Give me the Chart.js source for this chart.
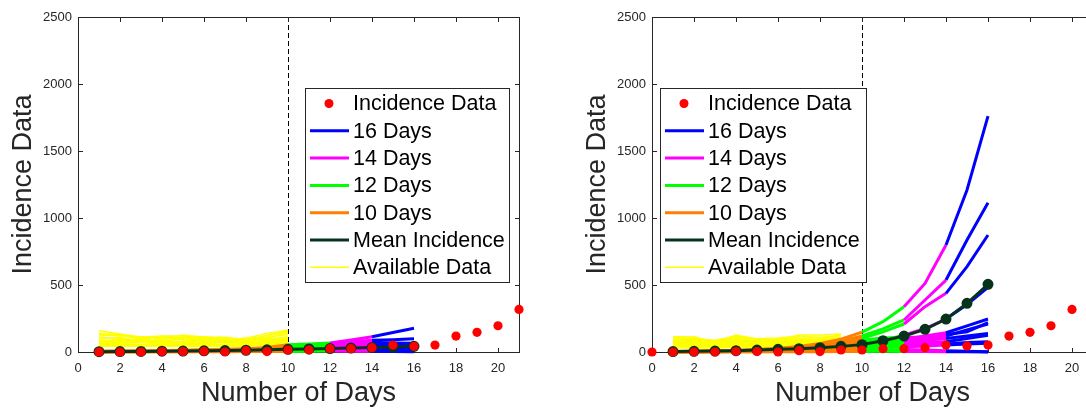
<!DOCTYPE html>
<html>
<head>
<meta charset="utf-8">
<script src="https://cdn.jsdelivr.net/npm/chart.js@4.4.1/dist/chart.umd.min.js"></script>
<style>
  html, body { margin: 0; padding: 0; background: #fff; overflow: hidden; width: 1086px; height: 409px; }
  #wrap { position: relative; width: 1086px; height: 409px; overflow: hidden; }
  canvas { position: absolute; top: 0; }
  #leftPanel { left: 0; }
  #rightPanel { left: 574px; }
</style>
</head>
<body>
<div id="wrap">
  <canvas id="leftPanel" width="545" height="409"></canvas>
  <canvas id="rightPanel" width="545" height="409"></canvas>
</div>
<script>
// ---- axis ticks ----
const xTicks = [0, 2, 4, 6, 8, 10, 12, 14, 16, 18, 20];
const yTicks = [0, 500, 1000, 1500, 2000, 2500];

// ---- legend ----
const legendLabels = ['Incidence Data', '16 Days', '14 Days', '12 Days', '10 Days', 'Mean Incidence', 'Available Data'];
const legendKinds  = ['dot', 'line', 'line', 'line', 'line', 'line', 'thin'];

// ---- observed incidence ----
const leftIncidenceDays = [1, 2, 3, 4, 5, 6, 7, 8, 9, 10, 11, 12, 13, 14, 15, 16, 17, 18, 19, 20, 21];
const leftIncidence     = [0, 0, 0, 3, 3, 5, 0, 10, 3, 15, 15, 25, 25, 32, 52, 42, 52, 119, 147, 196, 318];
const rightIncidenceDays = [0, 1, 2, 3, 4, 5, 6, 7, 8, 9, 10, 11, 12, 13, 14, 15, 16, 17, 18, 19, 20];
const rightIncidence     = [0, 0, 0, 0, 3, 3, 0, 10, 3, 15, 15, 25, 25, 32, 52, 45, 52, 119, 147, 196, 318];

// ---- forecast runs, days 1..16 ----
const forecastDays = [1, 2, 3, 4, 5, 6, 7, 8, 9, 10, 11, 12, 13, 14, 15, 16];
// calibration windows (first day, last day) for 10, 12, 14 and 16 days
const window10 = [1, 10];
const window12 = [10, 12];
const window14 = [12, 14];
const window16 = [14, 16];

const leftMean = [2, 3, 4, 6, 7, 9, 11, 13, 16, 20, 23, 26, 29, 33, 37, 42];
const leftRuns = [
  [6, 7, 9, 11, 13, 16, 20, 25, 33, 55, 60, 68, 90, 114, 145, 177],
  [5, 6, 8, 10, 12, 14, 17, 21, 27, 44, 52, 64, 75, 88, 92, 98],
  [4, 5, 7, 8, 10, 12, 14, 18, 22, 36, 44, 54, 62, 72, 68, 65],
  [3, 4, 6, 7, 8, 10, 12, 15, 18, 28, 36, 46, 50, 55, 52, 50],
  [3, 3, 4, 5, 6, 8, 10, 12, 15, 22, 28, 38, 42, 45, 44, 42],
  [2, 3, 3, 4, 5, 6, 8, 10, 12, 16, 22, 30, 32, 35, 33, 30],
  [1, 2, 2, 3, 4, 5, 6, 7, 9, 12, 16, 22, 24, 25, 22, 20],
  [1, 1, 1, 2, 2, 3, 4, 5, 6, 8, 10, 15, 15, 15, 12, 10],
  [0, 0, 1, 1, 1, 2, 2, 3, 3, 4, 5, 8, 6, 5, 3, 2]
];

const rightMean = [3, 5, 7, 10, 14, 20, 25, 32, 42, 55, 84, 119, 169, 246, 363, 505];
const rightRuns = [
  [4, 6, 9, 13, 19, 28, 42, 63, 95, 148, 226, 338, 512, 798, 1209, 1760],
  [3, 5, 7, 11, 16, 24, 35, 53, 80, 120, 172, 239, 388, 537, 836, 1114],
  [3, 4, 6, 10, 14, 21, 31, 46, 68, 102, 150, 209, 338, 438, 637, 873],
  [2, 3, 5, 7, 10, 14, 20, 29, 41, 58, 88, 125, 175, 246, 355, 483],
  [2, 3, 5, 8, 11, 16, 24, 35, 52, 78, 92, 95, 120, 144, 195, 246],
  [2, 3, 4, 7, 10, 14, 21, 30, 44, 66, 80, 85, 102, 119, 165, 209],
  [2, 3, 4, 6, 9, 12, 17, 25, 36, 88, 105, 110, 112, 130, 150, 220],
  [1, 2, 4, 6, 9, 13, 18, 26, 38, 55, 65, 70, 85, 100, 120, 139],
  [1, 2, 3, 5, 7, 10, 15, 22, 32, 46, 55, 60, 70, 77, 100, 125],
  [1, 2, 3, 4, 6, 9, 13, 18, 26, 38, 45, 48, 55, 60, 70, 77],
  [1, 2, 2, 3, 5, 7, 10, 14, 20, 28, 35, 38, 45, 52, 60, 65],
  [1, 1, 1, 2, 2, 3, 4, 6, 8, 12, 15, 18, 15, 10, 5, 2],
  [0, 0, 0, 1, 1, 1, 2, 2, 3, 4, 5, 4, 3, 2, 1, 0]
];

// ---- available data samples ----
const leftAvailableDays = [1, 2, 3, 4, 5, 6, 7, 8, 9, 10];
const leftAvailable = [
  [159, 134, 110, 120, 119, 104, 90, 104, 139, 164],
  [140, 125, 100, 105, 125, 112, 110, 92, 125, 155],
  [130, 120, 114, 95, 110, 100, 70, 95, 120, 150],
  [120, 130, 95, 110, 90, 115, 95, 85, 105, 140],
  [110, 100, 90, 114, 95, 90, 100, 80, 110, 130],
  [95, 110, 80, 85, 100, 80, 75, 90, 95, 115],
  [85, 80, 95, 75, 80, 95, 65, 70, 100, 95],
  [78, 95, 85, 90, 75, 85, 88, 78, 88, 105],
  [70, 90, 70, 80, 70, 70, 80, 60, 80, 100],
  [65, 72, 80, 70, 72, 66, 70, 72, 75, 90],
  [60, 65, 75, 60, 65, 60, 55, 65, 70, 85],
  [55, 60, 58, 62, 58, 62, 52, 58, 64, 76],
  [50, 55, 50, 55, 50, 55, 45, 50, 60, 70],
  [45, 50, 46, 50, 46, 48, 44, 48, 55, 62],
  [40, 45, 42, 45, 40, 42, 40, 45, 50, 55]
];
const rightAvailableDays = [1, 2, 3, 4, 5, 6, 7, 8, 9];
const rightAvailable = [
  [114, 114, 70, 127, 95, 90, 127, 127, 134],
  [105, 98, 88, 118, 100, 105, 120, 100, 128],
  [100, 105, 80, 110, 90, 77, 115, 110, 120],
  [90, 95, 75, 100, 85, 95, 100, 95, 110],
  [85, 88, 72, 95, 88, 80, 95, 90, 105],
  [80, 85, 65, 90, 80, 85, 90, 85, 100],
  [75, 80, 68, 85, 75, 78, 85, 80, 95],
  [70, 75, 60, 80, 70, 75, 80, 75, 90],
  [65, 70, 58, 75, 66, 70, 75, 70, 85],
  [60, 65, 55, 70, 62, 65, 70, 65, 80],
  [55, 60, 52, 65, 58, 60, 65, 60, 72],
  [50, 55, 48, 60, 55, 55, 60, 55, 65],
  [45, 48, 44, 52, 48, 50, 52, 50, 58],
  [40, 42, 40, 45, 42, 45, 45, 45, 50],
  [30, 32, 30, 35, 32, 33, 35, 35, 40]
];

const splitDay = 10;

// ---- styling ----
const C = {
  red: '#ff0000', blue: '#0000ff', magenta: '#ff00ff', green: '#00ff00',
  orange: '#ff8000', mean: '#07331d', yellow: '#ffff00', axis: '#262626'
};
const legendColors = [C.red, C.blue, C.magenta, C.green, C.orange, C.mean, C.yellow];
const FONT = "'Liberation Sans', Arial, Helvetica, sans-serif";
Chart.defaults.font.family = FONT;

function pts(days, values) {
  return days.map((d, i) => ({ x: d, y: values[i] }));
}
function segment(values, span) {
  return forecastDays
    .filter(d => d >= span[0] && d <= span[1])
    .map(d => ({ x: d, y: values[d - 1] }));
}
function lineSet(data, color, width) {
  return { data, showLine: true, borderColor: color, backgroundColor: color,
           borderWidth: width, pointRadius: 0, clip: false, tension: 0 };
}

function buildDatasets(incDays, inc, mean, runs, availDays, avail) {
  const sets = [];
  // first dataset is painted last (on top)
  sets.push({ data: pts(incDays, inc), showLine: false, pointRadius: 4.6,
              pointBackgroundColor: C.red, pointBorderColor: C.red, pointBorderWidth: 0, clip: false });
  sets.push({ data: pts(forecastDays, mean), showLine: true, borderColor: C.mean, borderWidth: 3,
              pointRadius: 4, pointBackgroundColor: C.mean, pointBorderColor: C.mean, clip: false });
  [[window16, C.blue], [window14, C.magenta], [window12, C.green], [window10, C.orange]].forEach(([span, col]) => {
    runs.forEach(r => sets.push(lineSet(segment(r, span), col, 3)));
  });
  avail.forEach(a => sets.push(lineSet(pts(availDays, a), C.yellow, 1.4)));
  return sets;
}

// MATLAB-like axes box with inward ticks and the dashed split marker
const framePlugin = {
  id: 'frame',
  beforeDatasetsDraw(chart) {
    const { ctx, chartArea: a, scales: { x, y } } = chart;
    ctx.save();
    const xd = Math.round(x.getPixelForValue(splitDay)) + 0.5;
    ctx.strokeStyle = '#000';
    ctx.lineWidth = 1;
    ctx.setLineDash([5, 3]);
    ctx.beginPath(); ctx.moveTo(xd, a.top); ctx.lineTo(xd, a.bottom); ctx.stroke();
    ctx.setLineDash([]);

    ctx.strokeStyle = C.axis;
    ctx.lineWidth = 1;
    const L = a.left + 0.5, R = a.right + 0.5, T = a.top + 0.5, B = a.bottom + 0.5;
    ctx.strokeRect(L, T, R - L, B - T);
    const len = 4.5;
    ctx.beginPath();
    xTicks.forEach(v => {
      const px = Math.round(x.getPixelForValue(v)) + 0.5;
      ctx.moveTo(px, B); ctx.lineTo(px, B - len);
      ctx.moveTo(px, T); ctx.lineTo(px, T + len);
    });
    yTicks.forEach(v => {
      const py = Math.round(y.getPixelForValue(v)) + 0.5;
      ctx.moveTo(L, py); ctx.lineTo(L + len, py);
      ctx.moveTo(R, py); ctx.lineTo(R - len, py);
    });
    ctx.stroke();
    ctx.restore();
  }
};

// boxed legend drawn inside the plot area
const boxLegendPlugin = {
  id: 'boxLegend',
  afterDraw(chart, args, opts) {
    const { ctx } = chart;
    const b = opts.box;
    ctx.save();
    ctx.fillStyle = '#fff';
    ctx.fillRect(b.x, b.y, b.w, b.h);
    ctx.strokeStyle = C.axis;
    ctx.lineWidth = 1;
    ctx.strokeRect(b.x + 0.5, b.y + 0.5, b.w, b.h);
    ctx.font = '21.5px ' + FONT;
    ctx.textBaseline = 'middle';
    ctx.textAlign = 'left';
    legendLabels.forEach((label, i) => {
      const cy = b.y + 15.5 + i * 27.3;
      const col = legendColors[i];
      if (legendKinds[i] === 'dot') {
        ctx.fillStyle = col;
        ctx.beginPath(); ctx.arc(b.x + 24, cy, 4.5, 0, Math.PI * 2); ctx.fill();
      } else {
        ctx.strokeStyle = col;
        ctx.lineWidth = legendKinds[i] === 'thin' ? 1.5 : 3;
        ctx.beginPath(); ctx.moveTo(b.x + 5, cy); ctx.lineTo(b.x + 44, cy); ctx.stroke();
      }
      ctx.fillStyle = '#000';
      ctx.fillText(label, b.x + 48, cy + 1);
    });
    ctx.restore();
  }
};

function makeChart(canvasId, datasets, legendBox) {
  return new Chart(document.getElementById(canvasId), {
    type: 'scatter',
    data: { datasets },
    options: {
      responsive: false,
      animation: false,
      events: [],
      devicePixelRatio: 1,
      layout: { padding: { left: 0, top: 17, right: 26, bottom: 0 } },
      plugins: {
        legend: { display: false },
        tooltip: { enabled: false },
        boxLegend: { box: legendBox }
      },
      scales: {
        x: {
          type: 'linear', min: 0, max: 21,
          afterBuildTicks: s => { s.ticks = xTicks.map(v => ({ value: v })); },
          afterFit: s => { s.height = 57; },
          grid: { display: false, drawTicks: false },
          border: { display: false },
          ticks: { color: C.axis, font: { size: 13 }, padding: 9, maxRotation: 0,
                   callback: v => String(v) },
          title: { display: true, text: 'Number of Days', color: C.axis,
                   font: { size: 27, lineHeight: 1 }, padding: { top: 0, bottom: 2 } }
        },
        y: {
          type: 'linear', min: 0, max: 2500,
          afterBuildTicks: s => { s.ticks = yTicks.map(v => ({ value: v })); },
          afterFit: s => { s.width = 78; },
          grid: { display: false, drawTicks: false },
          border: { display: false },
          ticks: { color: C.axis, font: { size: 13 }, padding: 6,
                   callback: v => String(v) },
          title: { display: true, text: 'Incidence Data', color: C.axis,
                   font: { size: 27, lineHeight: 1 }, padding: { top: 10, bottom: 0 } }
        }
      }
    },
    plugins: [framePlugin, boxLegendPlugin]
  });
}

makeChart('leftPanel',
  buildDatasets(leftIncidenceDays, leftIncidence, leftMean, leftRuns, leftAvailableDays, leftAvailable),
  { x: 305, y: 88, w: 204, h: 194 });

makeChart('rightPanel',
  buildDatasets(rightIncidenceDays, rightIncidence, rightMean, rightRuns, rightAvailableDays, rightAvailable),
  { x: 86, y: 88, w: 206, h: 194 });
</script>
</body>
</html>
